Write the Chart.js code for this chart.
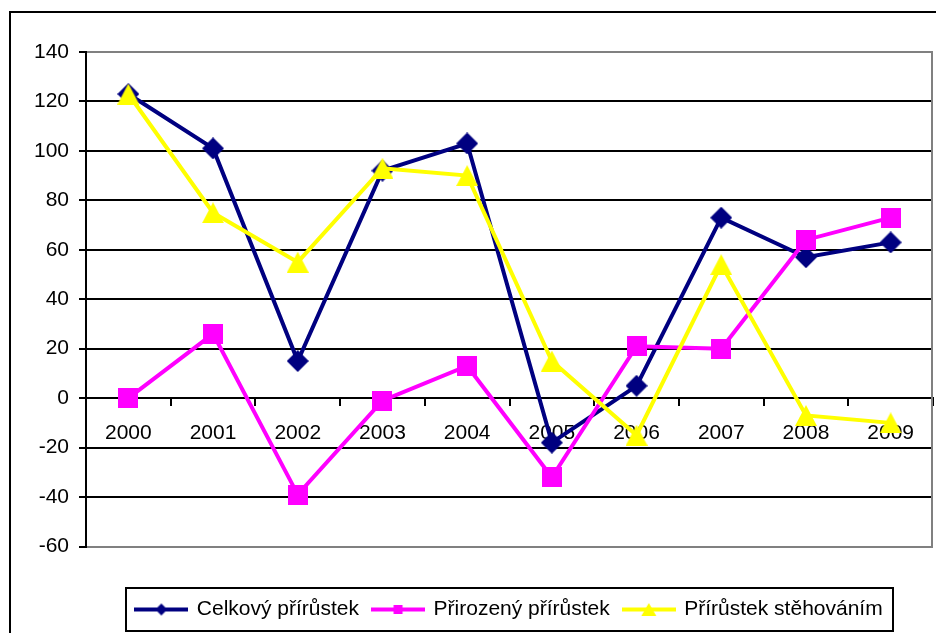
<!DOCTYPE html>
<html><head><meta charset="utf-8">
<script src="https://cdn.jsdelivr.net/npm/chart.js@4.4.1/dist/chart.umd.min.js"></script>
<style>html,body{margin:0;padding:0;background:#fff;}#wrap{width:936px;height:633px;position:relative;overflow:hidden}</style>
</head><body><div id="wrap"><canvas id="c" width="936" height="633"></canvas></div>
<script>
// ---- data ----
const years = ['2000','2001','2002','2003','2004','2005','2006','2007','2008','2009'];
const celkovy = [123, 101, 15, 92, 103, -18, 5, 73, 57, 63];
const prirozeny = [0, 26, -39, -1, 13, -32, 21, 20, 64, 73];
const stehovani = [123, 75, 55, 93, 90, 15, -15, 54, -7, -10];
const seriesNames = ['Celkový přírůstek', 'Přirozený přírůstek', 'Přírůstek stěhováním'];
const yMin = -60, yMax = 140, yStep = 20;

// ---- styles ----
const FONT = {family: '"Liberation Sans", Arial, sans-serif', size: 21};
const NAVY = '#000080', MAGENTA = '#FF00FF', YELLOW = '#FFFF00';

function shapePath(c, shape, cx, cy, w, h) {
  c.beginPath();
  if (shape === 'diamond') {
    c.moveTo(cx, cy - h/2); c.lineTo(cx + w/2, cy); c.lineTo(cx, cy + h/2); c.lineTo(cx - w/2, cy);
  } else if (shape === 'square') {
    c.rect(cx - w/2, cy - h/2, w, h);
  } else {
    c.moveTo(cx, cy - h/2); c.lineTo(cx + w/2, cy + h/2); c.lineTo(cx - w/2, cy + h/2);
  }
  c.closePath();
}
function markerCanvas(shape, w, h, color) {
  const cv = document.createElement('canvas');
  cv.width = w; cv.height = h;
  const c = cv.getContext('2d');
  c.fillStyle = color;
  shapePath(c, shape, w/2, h/2, w, h);
  c.fill();
  return cv;
}
function legendCanvas(shape, color, mw, mh) {
  const W = 54, H = Math.max(mh, 6) + 2;
  const cv = document.createElement('canvas');
  cv.width = W; cv.height = H;
  const c = cv.getContext('2d');
  c.strokeStyle = color; c.lineWidth = 4;
  c.beginPath(); c.moveTo(0, H/2); c.lineTo(W, H/2); c.stroke();
  c.fillStyle = color;
  shapePath(c, shape, W/2, H/2, mw, mh);
  c.fill();
  return cv;
}
const markers = [markerCanvas('diamond', 22, 22, NAVY), markerCanvas('square', 20, 20, MAGENTA), markerCanvas('triangle', 22, 21, YELLOW)];
const legendImgs = [legendCanvas('diamond', NAVY, 12, 12), legendCanvas('square', MAGENTA, 9, 9), legendCanvas('triangle', YELLOW, 15, 13)];

const framePlugin = {
  id: 'frame',
  beforeDraw(chart) {
    const c = chart.ctx;
    c.save();
    c.fillStyle = '#fff'; c.fillRect(0, 0, chart.width, chart.height);
    c.strokeStyle = '#000'; c.lineWidth = 2;
    c.beginPath(); c.moveTo(10, 700); c.lineTo(10, 12); c.lineTo(1000, 12); c.stroke();
    c.restore();
  },
  beforeDatasetsDraw(chart) {
    const c = chart.ctx, a = chart.chartArea;
    c.save();
    c.strokeStyle = '#808080'; c.lineWidth = 2;
    c.beginPath(); c.moveTo(a.right - 1, a.top - 1); c.lineTo(a.right - 1, a.bottom + 1); c.stroke();
    c.restore();
  },
  afterDraw(chart) {
    const lg = chart.legend;
    if (!lg || !lg.legendHitBoxes || !lg.legendHitBoxes.length) return;
    const hb = lg.legendHitBoxes;
    let l = Infinity, r = -Infinity, t = Infinity, b = -Infinity;
    hb.forEach(h => { l = Math.min(l, h.left); r = Math.max(r, h.left + h.width); t = Math.min(t, h.top); b = Math.max(b, h.top + h.height); });
    const c = chart.ctx;
    c.save();
    c.strokeStyle = '#000'; c.lineWidth = 2;
    const x0 = Math.round(l - 11) + 1, x1 = Math.round(r + 9) + 1;
    c.strokeRect(x0, Math.round(t - 12) + 1, x1 - x0, Math.round(b - t + 22));
    c.restore();
  }
};

const ds = (label, data, color, marker, order) => ({
  label, data, borderColor: color, backgroundColor: color, borderWidth: 4, tension: 0,
  pointStyle: marker, pointRadius: 11, pointHoverRadius: 11, order
});

const zeroPad = s => { s.paddingLeft = 0; s.paddingRight = 0; };

new Chart(document.getElementById('c'), {
  type: 'line',
  data: {
    labels: years,
    datasets: [
      ds(seriesNames[0], celkovy, NAVY, markers[0], 3),
      ds(seriesNames[1], prirozeny, MAGENTA, markers[1], 2),
      ds(seriesNames[2], stehovani, YELLOW, markers[2], 1)
    ]
  },
  options: {
    responsive: false, animation: false, devicePixelRatio: 1,
    layout: {autoPadding: false, padding: {top: 52, right: 3, bottom: 3, left: 0}},
    plugins: {
      tooltip: {enabled: false},
      legend: {
        position: 'bottom', fullSize: false,
        labels: {
          usePointStyle: true, pointStyleWidth: 50, padding: 14, font: FONT, color: '#000',
          generateLabels: chart => chart.data.datasets.map((d, i) => ({
            text: d.label, pointStyle: legendImgs[i], datasetIndex: i, hidden: false,
            fillStyle: d.borderColor, strokeStyle: d.borderColor, lineWidth: 0, fontColor: '#000'
          }))
        }
      }
    },
    scales: {
      x: {
        type: 'category', position: {y: 0}, offset: true,
        grid: {offset: true, drawOnChartArea: false, drawTicks: true, tickLength: 7, color: '#000', lineWidth: 2},
        border: {display: true, color: '#000', width: 2},
        ticks: {font: FONT, color: '#000', padding: 15, maxRotation: 0, autoSkip: false},
        afterFit: zeroPad
      },
      y: {
        min: yMin, max: yMax,
        ticks: {stepSize: yStep, font: FONT, color: '#000', padding: 10},
        grid: {
          color: ctx => (ctx.tick && (ctx.tick.value === yMax || ctx.tick.value === yMin)) ? '#808080' : '#000',
          lineWidth: 2, tickLength: 7, tickColor: '#000'
        },
        border: {display: true, color: '#000', width: 2},
        afterFit: s => { s.width = 86; }
      },
      pad: {
        type: 'linear', position: 'bottom', display: true,
        grid: {display: false}, ticks: {display: false}, border: {display: false},
        afterFit: s => { s.height = 38.5; zeroPad(s); }
      }
    }
  },
  plugins: [framePlugin]
});
</script>
</body></html>
